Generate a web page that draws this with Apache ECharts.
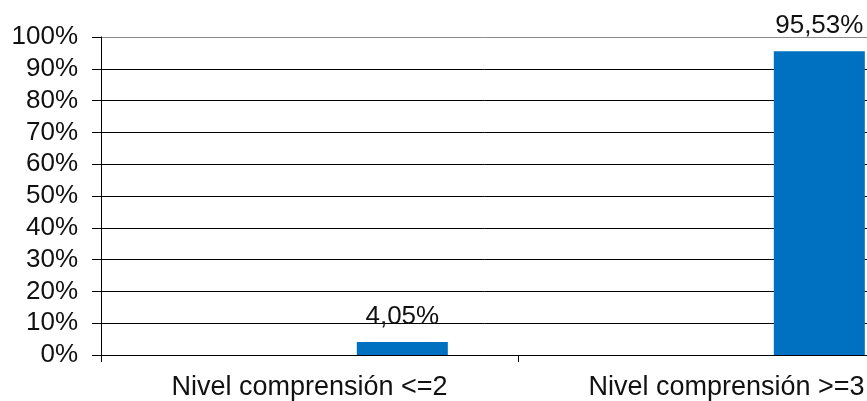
<!DOCTYPE html>
<html>
<head>
<meta charset="utf-8">
<script src="https://cdn.jsdelivr.net/npm/echarts@6/dist/echarts.min.js"></script>
<style>
  html, body { margin: 0; padding: 0; background: #fff; }
  #chart { width: 867px; height: 401px; }
</style>
</head>
<body>
<div id="chart"></div>
<script>
// Comprehension level shares (percent of respondents)
const categories = ['Nivel comprensión <=2', 'Nivel comprensión >=3'];
const shareValues = [4.05, 95.53];
const emptySlot = [null, null];
const yMin = 0, yMax = 100, yStep = 10;

const font = "'Liberation Sans', Arial, sans-serif";
const gridColors = ['#000', '#000', '#000', '#000', '#000', '#000', '#000', '#000', '#000', '#000', '#8a8a8a'];

const chart = echarts.init(document.getElementById('chart'), null, { renderer: 'canvas' });
chart.setOption({
  animation: false,
  backgroundColor: '#fff',
  // the plot runs past the right edge of the canvas, so the second band is cut off
  grid: { left: 101, top: 37, height: 318, width: 834, containLabel: false, outerBoundsMode: 'none' },
  xAxis: {
    type: 'category',
    data: categories,
    axisLine: { show: true, lineStyle: { color: '#000', width: 1 } },
    axisTick: { show: true, length: 7, lineStyle: { color: '#000' } },
    axisLabel: { color: '#111', fontFamily: font, fontSize: 27, margin: 19, interval: 0 },
    splitLine: { show: false }
  },
  yAxis: {
    type: 'value',
    min: yMin, max: yMax, interval: yStep,
    axisLine: { show: true, lineStyle: { color: '#000', width: 1 } },
    axisTick: { show: true, length: 9, lineStyle: { color: '#000' } },
    axisLabel: { color: '#111', fontFamily: font, fontSize: 26, margin: 23, formatter: '{value}%' },
    splitLine: { show: true, lineStyle: { color: gridColors, width: 1 } }
  },
  series: [
    {
      type: 'bar',
      data: emptySlot,
      barWidth: 91,
      barGap: '104%',
      itemStyle: { color: '#0070c0' }
    },
    {
      type: 'bar',
      data: shareValues,
      barWidth: 91,
      barGap: '104%',
      itemStyle: { color: '#0070c0' },
      label: {
        show: true,
        position: 'top',
        distance: 12,
        color: '#111',
        fontFamily: font,
        fontSize: 26,
        formatter: p => p.value.toFixed(2).replace('.', ',') + '%'
      }
    }
  ]
});
</script>
</body>
</html>
